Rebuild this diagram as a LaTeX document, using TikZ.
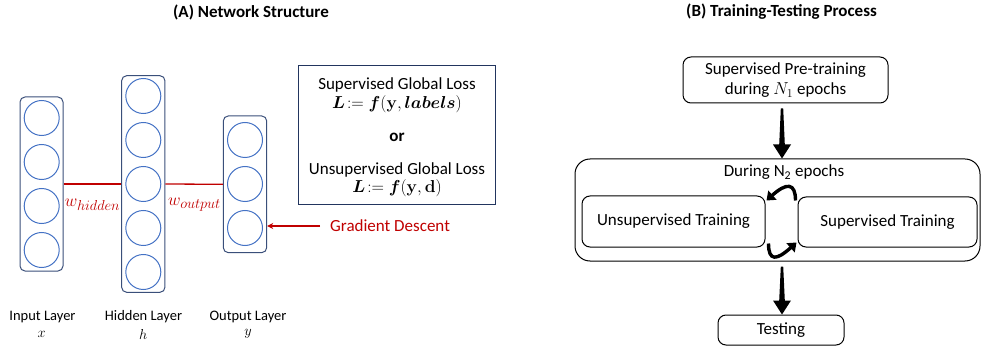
\documentclass[tikz,border=0pt]{standalone}
\usepackage{amsmath,bm}
\usepackage[no-math]{fontspec}
\setmainfont{Carlito}
\usetikzlibrary{calc,arrows.meta}
\definecolor{layerc}{HTML}{3A4F7A}
\definecolor{neuronc}{HTML}{4472C4}
\definecolor{lossc}{HTML}{22355E}
\definecolor{redc}{HTML}{C00000}
\newcommand\blkarrow[2]{%
  \fill ($(#1)+(-1.2,5)$) -- ($(#1)+(1.2,5)$) -- ($(#2)+(2.8,-14)$) -- ($(#2)+(9,-14)$)
    -- (#2) -- ($(#2)+(-9,-14)$) -- ($(#2)+(-2.8,-14)$) -- cycle;}
\begin{document}
\begin{tikzpicture}[x=1pt,y=-1pt,
  font=\fontsize{17}{20}\selectfont,
  layer/.style={draw=layerc, line width=1pt, rounded corners=5pt, inner sep=0pt},
  neuron/.style={draw=neuronc, line width=1pt, circle, minimum size=35pt, inner sep=0pt},
  redline/.style={draw=redc, line width=1.3pt},
  small/.style={font=\fontsize{14.5}{17}\selectfont},
  wlabel/.style={text=redc, font=\fontsize{19}{22}\selectfont},
  proc/.style={draw=black, line width=1pt, rounded corners=8pt, inner sep=0pt},
  title/.style={font=\fontsize{17}{20}\selectfont\bfseries},
  curvarrow/.style={line width=3.4pt, -{Triangle[width=12pt,length=8pt]}}
]
\useasboundingbox (0,0) rectangle (981,347);

% titles
\node[title] (tA) at (251,12) {(A) Network Structure};
\node[title] (tB) at (781.5,12) {(B) Training-Testing Process};

% layers
\node[layer, minimum width=43pt, minimum height=174pt] (inL) at (41.5,184) {};
\node[layer, minimum width=43.3pt, minimum height=216.6pt] (hidL) at (143.3,184) {};
\node[layer, minimum width=43.4pt, minimum height=136.7pt] (outL) at (245,184.3) {};

\foreach \y [count=\i] in {118,162,206,250} \node[neuron] (i\i) at (41.7,\y) {};
\foreach \y [count=\i] in {96,140,184,228,272} \node[neuron] (h\i) at (143.3,\y) {};
\foreach \y [count=\i] in {140,184,228} \node[neuron] (o\i) at (245,\y) {};

\draw[redline] (inL.east) -- (hidL.west);
\draw[redline] (hidL.east) -- (outL.west);
\node[wlabel] (wh) at (92.5,205) {$w_{hidden}$};
\node[wlabel] (wo) at (194.5,205) {$w_{output}$};

% gradient descent
\node[text=redc, anchor=west, inner sep=0pt] (gd) at (330,226) {Gradient Descent};
\draw[redline, -{Stealth[length=6pt,width=6pt]}] ([xshift=-10pt]gd.west) -- (gd.west -| outL.east);

% layer labels
\node[small] (lin) at (42.5,317) {Input Layer};
\node[small] (lhid) at (143.5,317) {Hidden Layer};
\node[small] (lout) at (248,317) {Output Layer};
\node[small] (mx) at (41.7,334) {$x$};
\node[small] (mh) at (143.3,334) {$h$};
\node[small] (my) at (248,334) {$y$};

% loss box
\node[draw=lossc, line width=1pt, minimum width=197pt, minimum height=139pt, inner sep=0pt] (loss) at (396.5,135.5) {};
\node (l1) at (397,85) {Supervised Global Loss};
\node (l2) at (397,104) {$\bm{L}\!:=\bm{f}(\mathbf{y},\bm{labels})$};
\node[font=\fontsize{17}{20}\selectfont\bfseries] (lor) at (397,137) {or};
\node (l3) at (397,170) {Unsupervised Global Loss};
\node (l4) at (397,188) {$\bm{L}\!:=\bm{f}(\mathbf{y},\mathbf{d})$};

% right panel
\node[proc, minimum width=205pt, minimum height=46pt, align=center] (pre) at (785.5,80)
  {Supervised Pre-training\\during $N_1$ epochs};
\node[draw=black, line width=1pt, rounded corners=15pt, minimum width=405pt, minimum height=102pt, inner sep=0pt] (big) at (777.5,210) {};
\node (dur) at (784,172) {During N\textsubscript{2} epochs};
\node[proc, minimum width=183pt, minimum height=51pt] (uns) at (673.5,221.5) {Unsupervised Training};
\node[proc, minimum width=179pt, minimum height=50pt] (sup) at (887.5,222) {Supervised Training};
\node[proc, minimum width=126pt, minimum height=30pt] (test) at (781,330) {Testing};

\coordinate (ax) at (782,0);
\coordinate (a1s) at (pre.south -| ax);
\coordinate (a1e) at (big.north -| ax);
\coordinate (a2s) at (big.south -| ax);
\coordinate (a2e) at (test.north -| ax);
\blkarrow{a1s}{a1e}
\blkarrow{a2s}{a2e}

\draw[curvarrow] ($(sup.north west)+(-2,4)$) .. controls +(0,-18) and +(20,-18) .. ($(uns.north east)+(1,5)$);
\draw[curvarrow] ($(uns.south east)+(3,-4)$) .. controls +(0,18) and +(-20,18) .. ($(sup.south west)+(-1,-5)$);
\end{tikzpicture}
\end{document}
